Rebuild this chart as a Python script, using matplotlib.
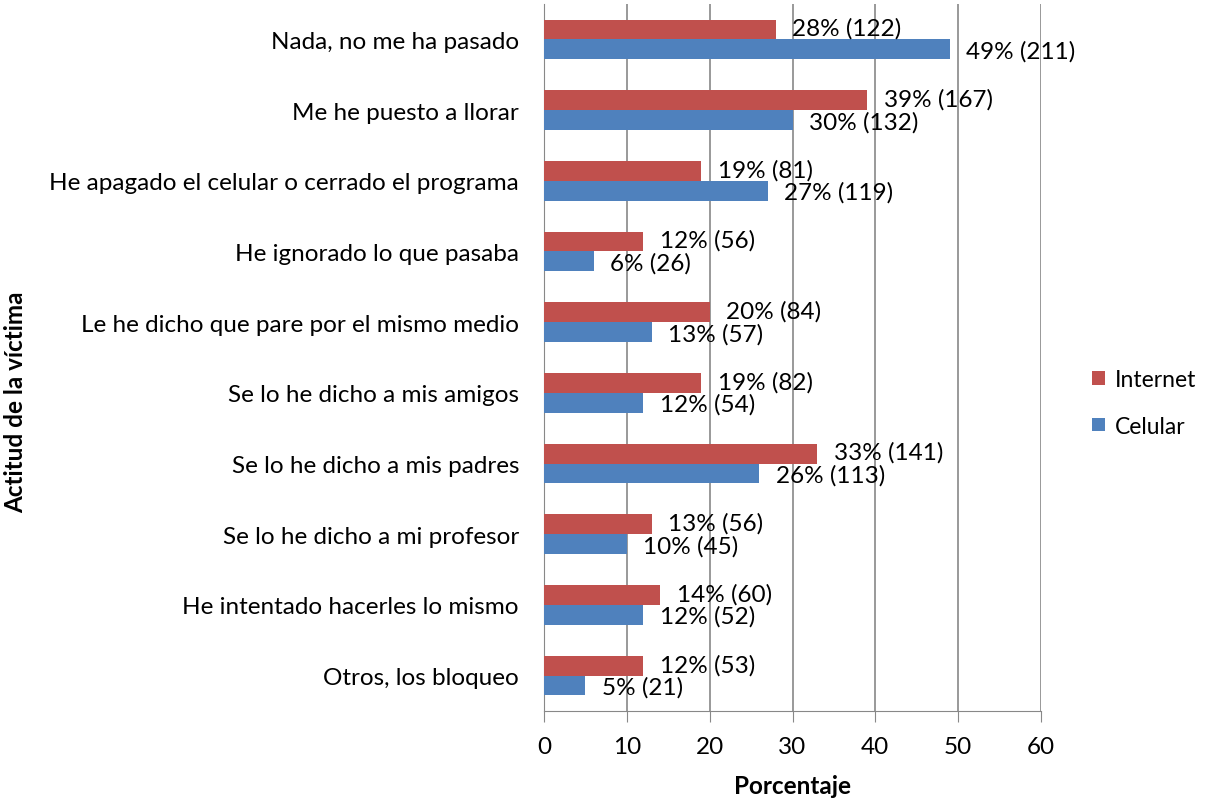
import matplotlib.pyplot as plt
import numpy as np

categories = ['Nada, no me ha pasado', 'Me he puesto a llorar',
              'He apagado el celular o cerrado el programa', 'He ignorado lo que pasaba',
              'Le he dicho que pare por el mismo medio', 'Se lo he dicho a mis amigos',
              'Se lo he dicho a mis padres', 'Se lo he dicho a mi profesor',
              'He intentado hacerles lo mismo', 'Otros, los bloqueo']
internet_pct = [28, 39, 19, 12, 20, 19, 33, 13, 14, 12]
internet_n = [122, 167, 81, 56, 84, 82, 141, 56, 60, 53]
celular_pct = [49, 30, 27, 6, 13, 12, 26, 10, 12, 5]
celular_n = [211, 132, 119, 26, 57, 54, 113, 45, 52, 21]

plt.rcParams['font.family'] = ['Lato', 'DejaVu Sans']
fs = 17.5

fig = plt.figure(figsize=(12.07, 8.04), dpi=100)
ax = fig.add_axes([544/1207, 1 - 712/804, (1041-544)/1207, (712-5)/804])

y = np.arange(len(categories))
h = 0.28
red = '#C0504D'
blue = '#4F81BD'

ax.barh(y - h/2, internet_pct, height=h, color=red, label='Internet', zorder=3)
ax.barh(y + h/2, celular_pct, height=h, color=blue, label='Celular', zorder=3)

for yi, p, n in zip(y, internet_pct, internet_n):
    ax.text(p + 2, yi - h/2 - 0.02, f'{p}% ({n})', va='center', ha='left', fontsize=fs, zorder=4)
for yi, p, n in zip(y, celular_pct, celular_n):
    ax.text(p + 2, yi + h/2 + 0.02, f'{p}% ({n})', va='center', ha='left', fontsize=fs, zorder=4)

ax.set_ylim(len(categories) - 0.5, -0.5)
ax.set_xlim(0, 60)
ax.set_xticks(range(0, 61, 10))
ax.set_yticks(y)
ax.set_yticklabels(categories, fontsize=fs)
ax.tick_params(axis='x', labelsize=fs, direction='out', length=8, color='#888888', pad=10)
ax.tick_params(axis='y', length=0, pad=18)
ax.grid(axis='x', color='#888888', linewidth=1.2, zorder=0)
for s in ['top', 'right']:
    ax.spines[s].set_visible(False)
ax.spines['left'].set_color('#888888')
ax.spines['bottom'].set_color('#888888')

ax.set_xlabel('Porcentaje', fontsize=fs, fontweight='bold', labelpad=12)
fig.text(16/1207, 0.5, 'Actitud de la víctima', rotation=90, fontsize=fs,
         fontweight='bold', va='center', ha='center')

handles, labels = ax.get_legend_handles_labels()
fig.legend(handles, labels, loc='center left', bbox_to_anchor=(1092/1207, 1 - 404/804),
           frameon=False, fontsize=16.5, handlelength=0.55, handleheight=0.55,
           labelspacing=1.1, handletextpad=0.45, borderaxespad=0, borderpad=0)

fig.savefig('out.png', dpi=100)
